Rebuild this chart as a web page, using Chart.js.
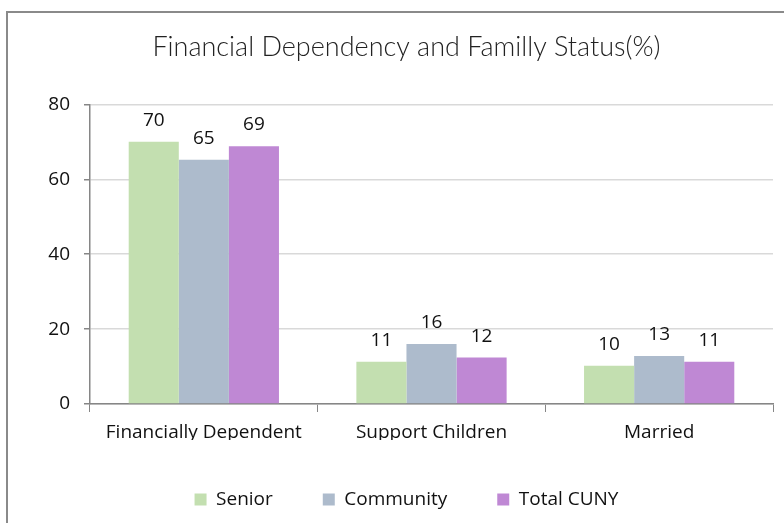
<!DOCTYPE html>
<html>
<head>
<meta charset="utf-8">
<script src="https://cdn.jsdelivr.net/npm/chart.js@4/dist/chart.umd.min.js"></script>
<style>
  body { margin: 0; background: #fff; }
  #wrap { position: relative; width: 784px; height: 523px; overflow: hidden; }
  #frame { position: absolute; left: 6px; top: 11px; width: 900px; height: 700px;
           border-left: 2px solid #8a8a8a; border-top: 2px solid #8a8a8a; pointer-events: none; }
</style>
</head>
<body>
<div id="wrap">
  <canvas id="chart"></canvas>
  <div id="frame"></div>
</div>
<script>
var categories = ['Financially Dependent', 'Support Children', 'Married'];
var seniorValues = [70, 11.3, 10.2];
var communityValues = [65.2, 16, 12.8];
var totalValues = [68.8, 12.4, 11.3];
var yTicks = [0, 20, 40, 60, 80];

var baseFont = "'Open Sans', 'Noto Sans', sans-serif";

// draws the number above each bar
var valueLabels = {
  id: 'valueLabels',
  afterDatasetsDraw: function(chart){
    var ctx = chart.ctx;
    ctx.save();
    ctx.font = '19px ' + baseFont;
    ctx.fillStyle = '#111';
    ctx.textAlign = 'center';
    ctx.textBaseline = 'alphabetic';
    chart.data.datasets.forEach(function(ds, i){
      chart.getDatasetMeta(i).data.forEach(function(bar, j){
        ctx.fillText(Math.round(ds.data[j]), bar.x, bar.y - 16);
      });
    });
    ctx.restore();
  }
};

new Chart(document.getElementById('chart'), {
  type: 'bar',
  data: {
    labels: categories,
    datasets: [
      { label: 'Senior', data: seniorValues, backgroundColor: '#c3dfb0' },
      { label: 'Community', data: communityValues, backgroundColor: '#adbbcc' },
      { label: 'Total CUNY', data: totalValues, backgroundColor: '#bf88d4' }
    ]
  },
  options: {
    responsive: true,
    maintainAspectRatio: false,
    animation: false,
    layout: { padding: { left: 40, right: 11, top: 0, bottom: 4 } },
    datasets: { bar: { barPercentage: 1, categoryPercentage: 0.66 } },
    plugins: {
      title: {
        display: true,
        text: 'Financial Dependency and Familly Status(%)',
        color: '#222',
        font: { family: "Lato, 'Open Sans', sans-serif", size: 27, weight: 300 },
        padding: { top: 31, bottom: 41 }
      },
      legend: {
        position: 'bottom',
        labels: {
          boxWidth: 12,
          boxHeight: 12,
          padding: 50,
          color: '#111',
          font: { family: baseFont, size: 19 }
        }
      },
      tooltip: { enabled: false }
    },
    scales: {
      x: {
        afterFit: function(scale){ scale.height = 36; },
        grid: { display: true, drawOnChartArea: false, offset: true, tickLength: 8, tickColor: '#868686' },
        border: { color: '#868686', width: 1.5 },
        ticks: { color: '#111', padding: 9, font: { family: baseFont, size: 19 } }
      },
      y: {
        min: 0,
        max: 80,
        afterFit: function(scale){ scale.width = 50; },
        afterBuildTicks: function(scale){ scale.ticks = yTicks.map(function(v){ return { value: v }; }); },
        grid: { color: '#d9d9d9', lineWidth: 1.5, tickLength: 6, tickColor: '#868686' },
        border: { color: '#868686', width: 1.5 },
        ticks: { color: '#111', padding: 14, font: { family: baseFont, size: 19 } }
      }
    }
  },
  plugins: [valueLabels]
});
</script>
</body>
</html>
